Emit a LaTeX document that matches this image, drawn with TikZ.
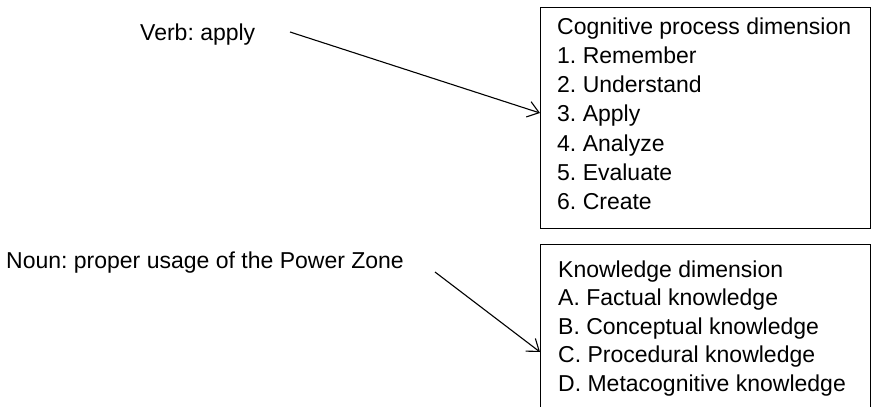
\documentclass[tikz,border=0pt]{standalone}
\usepackage{fontspec}
\setmainfont{Liberation Sans}
\usetikzlibrary{arrows.meta,calc}
\frenchspacing
\begin{document}
\begin{tikzpicture}[x=1pt,y=-1pt,
  txt/.style={anchor=base west, inner sep=0pt, font=\fontsize{23}{27}\selectfont},
  panel/.style={draw, line width=1.4pt, anchor=north west, inner sep=0pt, minimum width=330pt},
  link/.style={line width=1.1pt, -{Straight Barb[length=11pt,width=16pt,line width=1.1pt]}}]
\useasboundingbox (0,0) rectangle (871,407);
\clip (0,0) rectangle (871,407);

% the two dimension panels
\node[panel, minimum height=221pt] (cog) at (540,7) {};
\node[panel, minimum height=200pt] (know) at (540,244) {};

% cognitive process dimension list
\foreach \t [count=\i from 0] in {Cognitive process dimension, 1. Remember, 2. Understand,
    3. Apply, 4. Analyze, 5. Evaluate, 6. Create}
  \node[txt] (cog\i) at (557, 34+29.3*\i) {\t};

% knowledge dimension list
\foreach \t [count=\i from 0] in {Knowledge dimension, A. Factual knowledge,
    B. Conceptual knowledge, C. Procedural knowledge, D. Metacognitive knowledge}
  \node[txt] (know\i) at (558, 277+28.5*\i) {\t};

% labels on the left
\node[txt] (verb) at (140,40) {Verb: apply};
\node[txt] (noun) at (6,268) {Noun: proper usage of the Power Zone};

% arrow ends
\coordinate (verbout) at (290,32);
\coordinate (nounout) at (435,272);
\coordinate (cogin) at ($(cog.north west)+(0,106)$);
\coordinate (knowin) at ($(know.north west)+(0,108)$);

\draw[link] (verbout) -- (cogin);
\draw[link] (nounout) -- (knowin);
\end{tikzpicture}
\end{document}
